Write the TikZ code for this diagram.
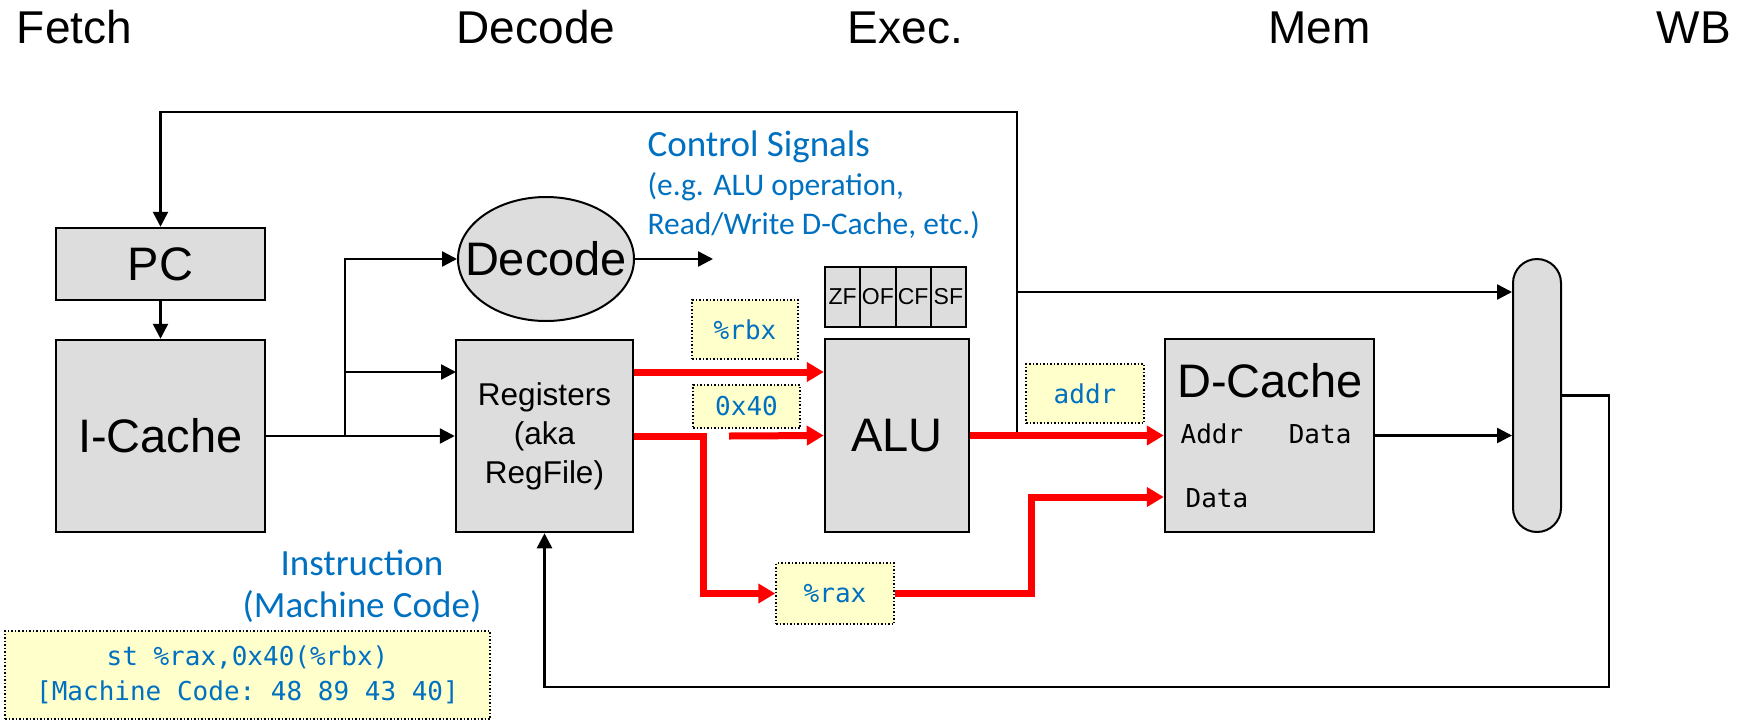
\documentclass[tikz,border=0pt]{standalone}
\usepackage{fontspec}
\setmainfont{Liberation Sans}
\setmonofont{DejaVu Sans Mono}
\newfontfamily\calibri{Carlito}
\usetikzlibrary{arrows.meta, shapes.geometric}
\definecolor{boxgray}{RGB}{221,221,221}
\definecolor{noteyellow}{RGB}{255,255,204}
\definecolor{sigblue}{RGB}{0,112,192}

\begin{document}
\begin{tikzpicture}[x=1pt,y=-1pt,>={Triangle[length=15pt,width=15pt]},line width=2.5pt,
  unit box/.style={draw,fill=boxgray,inner sep=0pt,font=\fontsize{47}{50}\selectfont},
  note box/.style={draw,dotted,line width=1.5pt,fill=noteyellow,inner sep=0pt,
    text=sigblue,font=\ttfamily\fontsize{26}{35}\selectfont},
  stage/.style={anchor=base,font=\fontsize{46}{50}\selectfont},
  port/.style={anchor=base,font=\ttfamily\fontsize{26}{30}\selectfont},
  blue text/.style={anchor=base,text=sigblue,font=\calibri\fontsize{37}{40}\selectfont},
  hot/.style={red,line width=7pt,-{Triangle[length=17pt,width=19pt]}}]
  \useasboundingbox (0,0) rectangle (1750,721);

  % pipeline stages
  \node[stage] (sF) at (74.5,43) {Fetch};
  \node[stage] (sD) at (536,43) {Decode};
  \node[stage] (sE) at (905.5,43) {Exec.};
  \node[stage] (sM) at (1319.5,43) {Mem};
  \node[stage] (sW) at (1694,43) {WB};

  % units
  \node[unit box,minimum width=209pt,minimum height=72pt] (pc) at (160.5,264) {PC};
  \node[unit box,minimum width=209pt,minimum height=192pt] (icache) at (160.5,436) {I-Cache};
  \node[unit box,ellipse,line width=2pt,inner xsep=-20pt,minimum width=176pt,
    minimum height=124pt] (decode) at (546,259) {Decode};
  \node[unit box,minimum width=177pt,minimum height=192pt,align=center,
    font=\fontsize{31.5}{39}\selectfont] (regs) at (544.5,436) {Registers\\(aka\\RegFile)};
  \node[unit box,minimum width=144pt,minimum height=193pt] (alu) at (897,435.5) {ALU};
  \foreach \f [count=\i] in {ZF,OF,CF,SF}
    \node[unit box,line width=2pt,minimum width=35.25pt,minimum height=60pt,
      font=\fontsize{23}{23}\selectfont] (flag\i) at ({807.375+35.25*\i},297) {\f};
  \node[unit box,minimum width=209pt,minimum height=193pt] (dcache) at (1269.5,435.5) {};
  \node[anchor=base,font=\fontsize{47}{50}\selectfont] (dlabel) at (1270,397) {D-Cache};
  \node[port,anchor=base west] (daddr) at (1176,443) {Addr};
  \node[port,anchor=base east] (dout) at (1356,443) {Data};
  \node[port,anchor=base west] (din) at (1181,507) {Data};
  \node[draw,fill=boxgray,line width=2pt,rounded corners=24pt,minimum width=48pt,
    minimum height=273pt] (mux) at (1537,395.5) {};

  % values on the wires
  \node[note box,minimum width=106pt,minimum height=59pt] (rbx) at (745,329.5) {\%rbx};
  \node[note box,minimum width=107pt,minimum height=43pt] (imm) at (746.5,406.5) {0x40};
  \node[note box,minimum width=118pt,minimum height=59pt] (addr) at (1085,393.5) {addr};
  \node[note box,minimum width=118pt,minimum height=61pt] (rax) at (835,593.5) {\%rax};
  \node[note box,minimum width=485pt,minimum height=88pt,align=center] (code) at (247.5,675)
    {st \%rax,0x40(\%rbx)\\{}[Machine Code: 48 89 43 40]};

  \node[blue text,anchor=base west] (ctrl) at (643,156) {Control Signals};
  \node[blue text,anchor=base west,font=\calibri\fontsize{31.5}{36}\selectfont] (ctrl2) at (643,195)
    {(e.g. ALU operation,};
  \node[blue text,anchor=base west,font=\calibri\fontsize{31.5}{36}\selectfont] (ctrl3) at (643,234)
    {Read/Write D-Cache, etc.)};
  \node[blue text] (instr) at (362,575) {Instruction};
  \node[blue text] (instr2) at (362,617) {(Machine Code)};

  % wire corners
  \coordinate (split) at (345,436);
  \coordinate (regsA) at (456,372);
  \coordinate (ctlout) at (713,259);
  \coordinate (fbk) at (1017,112);
  \coordinate (tap) at (1017,292);
  \coordinate (wbk) at (1609,687);
  \coordinate (bend1) at (703,436);
  \coordinate (immin) at (729,436);
  \coordinate (bend2) at (1031,497);

  % black wires
  \draw[->] (pc) -- (icache);
  \draw (icache) -- (split);
  \draw[->] (split) |- (decode);
  \draw[->] (split) |- (regsA);
  \draw[->] (split) -- (regs);
  \draw[->] (decode) -- (ctlout);
  \draw[->] (alu.east) -| (fbk) -| (pc);
  \draw[->] (tap) -- (tap -| mux.west);
  \draw[->] (dcache.east) -- (dcache.east -| mux.west);
  \draw[->] (mux) -- (mux -| wbk) -- (wbk) -| (regs);

  % data path
  \draw[hot] (regs.east |- regsA) -- (alu.west |- regsA);
  \draw[hot] (regs.east) -- (bend1) |- (rax);
  \draw[hot] (immin) -- (alu.west);
  \draw[hot] (alu.east) -- (dcache.west);
  \draw[hot] (rax) -| (bend2) -- (dcache.west |- bend2);
\end{tikzpicture}
\end{document}
